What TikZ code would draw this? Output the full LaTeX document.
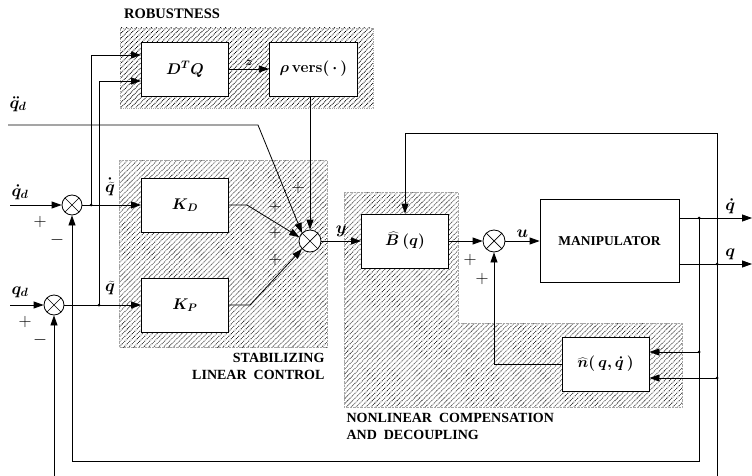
\RequirePackage{fix-cm}
\documentclass[tikz,border=0pt]{standalone}
\usepackage{fontspec}
\setmainfont{Liberation Serif}
\usetikzlibrary{arrows.meta, patterns.meta, positioning, calc}

\begin{document}
\begin{tikzpicture}[
    x=1pt, y=-1pt,
    block/.style={rectangle, draw, fill=white, line width=0.8pt, minimum width=87pt, minimum height=54pt, inner sep=0pt, font=\fontsize{15.5}{18}\selectfont\boldmath},
    sumnode/.style={circle, draw, fill=white, line width=0.8pt, minimum size=20pt, inner sep=0pt,
        path picture={\draw[line width=0.7pt] (path picture bounding box.north west) -- (path picture bounding box.south east)
                      (path picture bounding box.north east) -- (path picture bounding box.south west);}},
    hatch/.style={pattern={Lines[angle=45, distance=3.5pt, line width=0.85pt]}, draw=gray!70, densely dotted, line width=0.4pt},
    arrow/.style={-{Triangle[length=10pt, width=7pt]}, line width=0.8pt},
    wire/.style={line width=0.8pt},
    dot/.style={circle, fill, inner sep=0pt, minimum size=3pt},
    sig/.style={font=\fontsize{17}{18}\selectfont\boldmath},
    sign/.style={font=\fontsize{18}{18}\selectfont},
    grouplabel/.style={font=\fontsize{14}{17}\selectfont\bfseries, align=left}
]
\path[use as bounding box, fill=white] (0,0) rectangle (752,476);

% Hatched groups
\draw[hatch] (120,28) rectangle (373,108);
\draw[hatch] (119,160) rectangle (327,347);
\draw[hatch] (344,192) -- (458,192) -- (458,323) -- (682,323) -- (682,407) -- (344,407) -- cycle;

\node[grouplabel, font=\fontsize{14.5}{17}\selectfont\bfseries] (robustlabel) at (172,14) {ROBUSTNESS};
\node[grouplabel, align=right, anchor=north east] (stablabel) at (328,350) {STABILIZING\\LINEAR~~CONTROL};
\node[grouplabel, anchor=north west] (nllabel) at (343,410) {NONLINEAR~~COMPENSATION\\AND~~DECOUPLING};

% Blocks
\node[block] (dtq) at (185,69) {$D^{T}Q$};
\node[block, minimum width=88pt, right=40pt of dtq] (vers) {$\rho\,\mathbf{vers}(\,\cdot\,)$};
\node[block] (kd) at (185,205) {$K_{D}$};
\node[block] (kp) at (185,305) {$K_{P}$};
\node[block] (bq) at (405,241) {$\widehat{B}\,(q)$};
\node[block, minimum width=139pt, minimum height=83pt, font=\fontsize{13.5}{16}\selectfont\bfseries] (manip) at (609.5,241) {MANIPULATOR};
\node[block] (nhat) at (605.5,364) {$\widehat{n}(\,q,\dot{q}\,)$};

% Summing junctions
\node[sumnode] (sumv) at (72,205) {};
\node[sumnode] (sump) at (54,305) {};
\node[sumnode, minimum size=22pt] (sumy) at (310,241) {};
\node[sumnode, minimum size=22pt] (sumu) at (494,241) {};

% Branch points and free ends
\node[dot] (vsplit) at (91,205) {};
\node[dot] (psplit) at (99,305) {};
\node[dot] (velsplit) at (699,218) {};
\node[dot] (possplit) at (717,264) {};
\node[dot] (velsplitb) at (699,352) {};
\node[dot] (possplitb) at (717,378) {};
\coordinate (qddin) at (8,125);
\coordinate (qddbend) at (258,125);
\coordinate (qdin) at (10,205);
\coordinate (qin) at (10,305);
\coordinate (qdout) at (752,218);
\coordinate (qout) at (752,264);
\coordinate (kdbend) at (247,205);
\coordinate (kpbend) at (250,305);
\coordinate (looptop) at (717,133);
\coordinate (loopbot) at (699,461);
\coordinate (posloop) at (717,490);

% Inputs
\draw[arrow] (qdin) -- (sumv);
\draw[arrow] (qin) -- (sump);
\draw[arrow] (sumv) -- (kd);
\draw[arrow] (sump) -- (kp);
\draw[arrow] (vsplit.center) |- ($(dtq.west)+(0,-14)$);
\draw[arrow] (psplit.center) |- ($(dtq.west)+(0,12)$);
\draw[arrow] (dtq) -- (vers) node[midway, above, font=\fontsize{12}{12}\selectfont\boldmath] {$z$};

% Into the main sum
\draw[arrow] (vers.south -| sumy.north) -- (sumy.north);
\draw[arrow] (qddin) -- (qddbend) -- (sumy.north west);
\draw[arrow] (kd.east |- kdbend) -- (kdbend) -- (sumy.160);
\draw[arrow] (kp.east |- kpbend) -- (kpbend) -- (sumy.south west);

% Forward path
\draw[arrow] (sumy) -- (bq) node[midway, above, sig] {$y$};
\draw[arrow] (bq) -- (sumu);
\draw[arrow] (sumu) -- (manip) node[midway, above, sig] {$u$};
\draw[arrow] (manip.east |- qdout) -- (qdout) node[pos=0.7, above, sig] {$\dot{q}$};
\draw[arrow] (manip.east |- qout) -- (qout) node[pos=0.7, above, sig] {$q$};

% Feedback
\draw[arrow] (possplit.center) -- (looptop) -| (bq.north);
\draw[arrow] (velsplit.center) -- (loopbot) -| (sumv.south);
\draw[arrow] (possplit.center) -- (posloop) -| (sump.south);
\draw[arrow] (velsplitb.center) -- (nhat.east |- velsplitb);
\draw[arrow] (possplitb.center) -- (nhat.east |- possplitb);
\draw[arrow] (nhat.west) -| (sumu.south);

% Signal labels
\node[sig] (qddlabel) at (18,104) {$\ddot{q}_{d}$};
\node[sig] (qdlabel) at (20,192) {$\dot{q}_{d}$};
\node[sig] (qlabel) at (20,292) {$q_{d}$};
\node[sig] (dqtlabel) at (110,187) {$\dot{\widetilde{q}}$};
\node[sig] (qtlabel) at (110,288) {$\widetilde{q}$};

% Signs
\node[sign] (pv) at (40,222) {$+$};
\node[sign] (mv) at (57,240) {$-$};
\node[sign] (pp) at (25,322) {$+$};
\node[sign] (mp) at (40,340) {$-$};
\node[sign] (pya) at (298,188) {$+$};
\node[sign] (pyb) at (275,207) {$+$};
\node[sign] (pyc) at (275,233) {$+$};
\node[sign] (pyd) at (275,260) {$+$};
\node[sign] (pua) at (470,260) {$+$};
\node[sign] (pub) at (482,279) {$+$};

\end{tikzpicture}
\end{document}
